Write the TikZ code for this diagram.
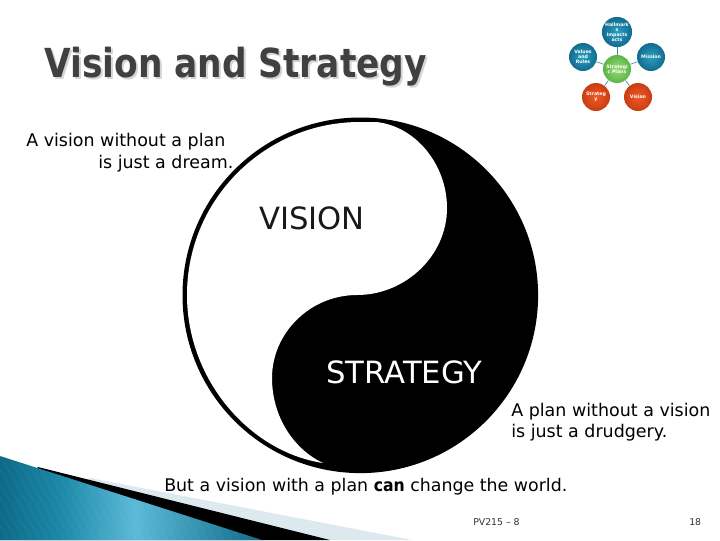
\documentclass[tikz,border=0pt]{standalone}
\usepackage{fontspec}
\setmainfont{DejaVu Sans}
\newfontfamily\titlefont[FakeStretch=0.86]{DejaVu Sans Bold}
\newfontfamily\canfont[FakeStretch=0.9]{DejaVu Sans Bold}
\definecolor{titlegray}{HTML}{404040}
\definecolor{shadowgray}{HTML}{D4D4D4}
\definecolor{blueout}{HTML}{126C8E}
\definecolor{bluein}{HTML}{2A9FC2}
\definecolor{redout}{HTML}{C93C12}
\definecolor{redin}{HTML}{EE5A28}
\definecolor{greenout}{HTML}{5DB446}
\definecolor{greenin}{HTML}{9ADB78}
\definecolor{edgeteal}{HTML}{3A8FA6}
\definecolor{pale}{HTML}{DCE9EF}
\definecolor{tealdark}{HTML}{0E6A88}
\definecolor{tealmid}{HTML}{1C88A8}
\definecolor{teallight}{HTML}{5CBAD8}
\tikzset{
  ballblue/.style={circle,minimum size=21pt,inner sep=0pt,inner color=bluein,outer color=blueout,text=white,font=\bfseries\fontsize{3.5}{3.8}\selectfont,align=center},
  ballred/.style={ballblue,inner color=redin,outer color=redout},
  ballgreen/.style={ballblue,inner color=greenin,outer color=greenout},
  spoke/.style={draw=edgeteal,line width=0.5pt},
  bodytext/.style={font=\fontsize{13.1}{15}\selectfont,text=black,inner sep=0pt,anchor=base west},
  bigword/.style={font=\fontsize{23}{25}\selectfont,inner sep=0pt,anchor=base west},
  smalltext/.style={font=\fontsize{7}{8}\selectfont,text=black!80,inner sep=0pt,anchor=base west},
  titletext/.style={font=\titlefont\fontsize{30}{33}\selectfont,inner sep=0pt,anchor=base west}
}
\begin{document}
\begin{tikzpicture}[x=0.75pt,y=-0.75pt]
\useasboundingbox (0,0) rectangle (720,540);
% banner
\fill[pale] (90,478) -- (412,540) -- (0,540) -- cycle;
\fill[black] (38,467) -- (330,540) -- (0,540) -- cycle;
\begin{scope}
\clip (0,456) -- (262,540) -- (0,540) -- cycle;
\shade[left color=tealdark,right color=tealmid] (0,456) rectangle (60.5,540);
\shade[left color=tealmid,right color=teallight] (60,456) rectangle (135.5,540);
\shade[left color=teallight,right color=tealdark] (135,456) rectangle (262,540);
\foreach \s in {-40,-32,...,270}
  \draw[white,opacity=0.05,line width=0.6pt] (\s,456) -- (\s+48,540);
\end{scope}
% yin yang
\fill[black] (360.3,295.3) circle [radius=177.8];
\fill[white] (376,122) .. controls (416,126) and (447,165) .. (447,208)
  .. controls (447,256) and (405,295) .. (357,295)
  .. controls (310,295) and (272,333) .. (272,378)
  .. controls (272,418) and (295,450) .. (323,463)
  .. controls (250,452) and (187,380) .. (187,295)
  .. controls (187,199) and (265,122) .. (360,122)
  .. controls (366,122) and (371,122) .. (376,122) -- cycle;
\node[bigword,text=black!90] (vision) at (259,229) {VISION};
\node[bigword,text=white] (strategy) at (326,383) {STRATEGY};
% title
\node[titletext,text=shadowgray] (titleshadow) at (46,79) {Vision and Strategy};
\node[titletext,text=titlegray] (title) at (44,77) {Vision and Strategy};
% texts
\node[bodytext] (a1) at (26,146) {A vision without a plan};
\node[bodytext] (a2) at (98,168) {is just a dream.};
\node[bodytext] (b1) at (511,416) {A plan without a vision};
\node[bodytext] (b2) at (511,437) {is just a drudgery.};
\node[bodytext,font=\fontsize{13.05}{15}\selectfont] (c) at (164,491.5) {But a vision with a plan {\canfont can} change the world.};
\node[smalltext] (foot) at (473,525.5) {PV215 – 8};
\node[smalltext] (num) at (689,525.5) {18};
% small diagram
\node[ballgreen] (hub) at (617,69) {Strategi\\c Plans};
\node[ballblue] (n1) at (617,32) {Hallmark\\s\\Impacts\\acts};
\node[ballblue] (n2) at (651,57) {Mission};
\node[ballred] (n3) at (638,97) {Vision};
\node[ballred] (n4) at (596,97) {Strateg\\y};
\node[ballblue] (n5) at (583,57) {Values\\and\\Rules};
\foreach \n in {n1,n2,n3,n4,n5} \draw[spoke] (hub) -- (\n);
\end{tikzpicture}
\end{document}
